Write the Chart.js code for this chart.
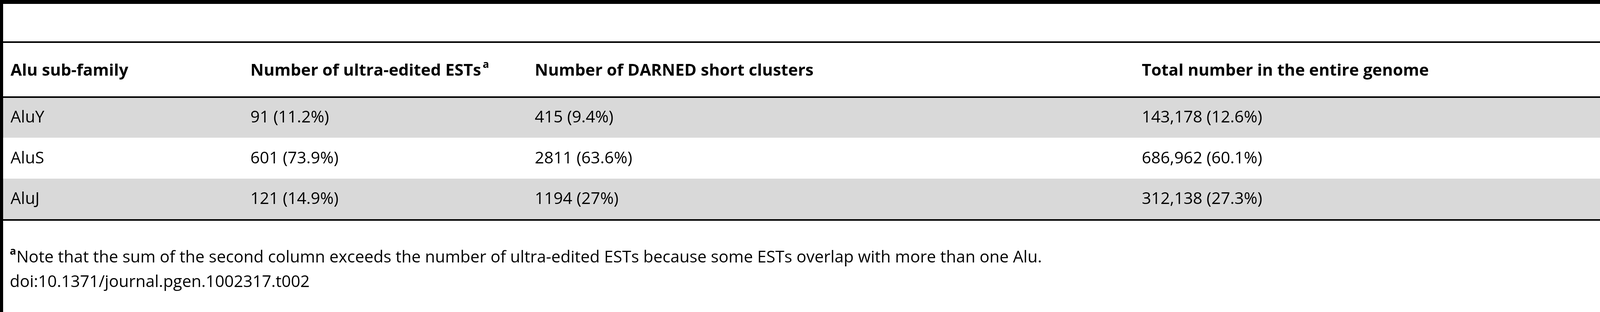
<!DOCTYPE html>
<html lang="en">
<head>
  <meta charset="UTF-8">
  <title>Alu sub-family table</title>
  <script src="https://cdn.jsdelivr.net/npm/chart.js"></script>
  <style>
    html, body { margin: 0; padding: 0; background: #fff; }
    #wrap { width: 4319px; height: 800px; }
  </style>
</head>
<body>
  <div id="wrap"><canvas id="tbl"></canvas></div>
  <script>
    // table contents
    const headers = ['Alu sub-family', 'Number of ultra-edited ESTs', 'Number of DARNED short clusters', 'Total number in the entire genome'];
    const families = ['AluY', 'AluS', 'AluJ'];
    const estCol = ['91 (11.2%)', '601 (73.9%)', '121 (14.9%)'];
    const darnedCol = ['415 (9.4%)', '2811 (63.6%)', '1194 (27%)'];
    const genomeCol = ['143,178 (12.6%)', '686,962 (60.1%)', '312,138 (27.3%)'];
    const footnote = 'Note that the sum of the second column exceeds the number of ultra-edited ESTs because some ESTs overlap with more than one Alu.';
    const doi = 'doi:10.1371/journal.pgen.1002317.t002';

    const colX = [27, 641, 1369, 2923];
    const FONT = '"Open Sans", "Noto Sans", sans-serif';

    const tablePlugin = {
      id: 'tablePlugin',
      afterDraw(chart) {
        const c = chart.ctx;
        const W = chart.width;
        c.save();
        c.fillStyle = '#fff';
        c.fillRect(0, 0, W, chart.height);
        // striped rows
        c.fillStyle = '#d9d9d9';
        c.fillRect(8, 251, W, 102);
        c.fillRect(8, 458, W, 104);
        // rules
        c.fillStyle = '#000';
        c.fillRect(0, 0, W, 10);
        c.fillRect(0, 0, 8, 800);
        c.fillRect(8, 106, W, 4);
        c.fillRect(8, 247, W, 4);
        c.fillRect(8, 562, W, 4);
        c.textBaseline = 'middle';
        c.textAlign = 'left';
        c.font = 'bold 42px ' + FONT;
        headers.forEach((h, i) => c.fillText(h, colX[i], 182));
        const w = c.measureText(headers[1]).width;
        c.font = 'bold 27px ' + FONT;
        c.fillText('a', colX[1] + w + 4, 166);
        c.font = '42px ' + FONT;
        const rowY = [302, 407, 511];
        families.forEach((f, r) => {
          [f, estCol[r], darnedCol[r], genomeCol[r]].forEach((t, i) => c.fillText(t, colX[i], rowY[r]));
        });
        c.font = 'bold 27px ' + FONT;
        c.fillText('a', 25, 645);
        c.font = '42px ' + FONT;
        c.fillText(footnote, 42, 661);
        c.fillText(doi, 25, 724);
        c.restore();
      }
    };

    new Chart(document.getElementById('tbl').getContext('2d'), {
      type: 'bar',
      data: { labels: families, datasets: [{ data: [], backgroundColor: 'transparent' }] },
      options: {
        responsive: true,
        maintainAspectRatio: false,
        animation: false,
        scales: { x: { display: false }, y: { display: false } },
        plugins: { legend: { display: false }, tooltip: { enabled: false } }
      },
      plugins: [tablePlugin]
    });
  </script>
</body>
</html>
